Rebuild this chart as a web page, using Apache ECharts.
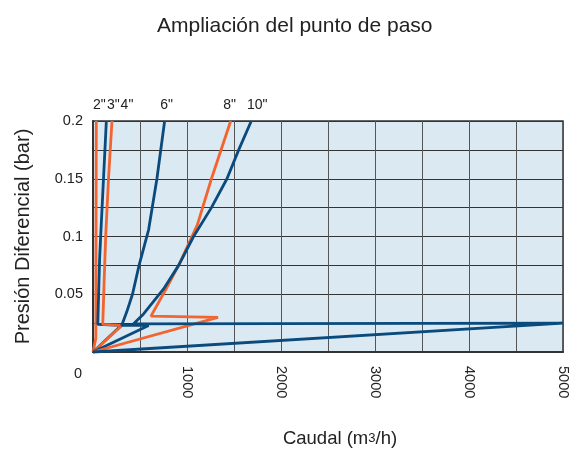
<!DOCTYPE html>
<html>
<head>
<meta charset="utf-8">
<script src="https://cdn.jsdelivr.net/npm/echarts@6/dist/echarts.min.js"></script>
<style>
  html, body { margin: 0; padding: 0; background: #fff; }
  #main { width: 571px; height: 453px; }
</style>
</head>
<body>
<div id="main"></div>
<script>
// pares [caudal m3/h, presión bar]
var sizes = ['2"', '3"', '4"', '6"', '8"', '10"'];

var curve2 = [[0, 0], [30, 0.012], [32, 0.1], [35, 0.2]];
var curve3 = [[0, 0], [300, 0.023], [51, 0.024], [70, 0.08], [85, 0.106], [142, 0.2]];
var curve4 = [[0, 0], [308, 0.023], [104, 0.024], [118, 0.06], [135, 0.1], [165, 0.15], [202, 0.2]];
var curve6 = [[0, 0], [592, 0.023], [305, 0.023], [360, 0.035], [420, 0.05], [490, 0.075], [592, 0.106], [680, 0.15], [762, 0.2]];
var curve8 = [[0, 0], [1330, 0.030], [617, 0.031], [780, 0.055], [929, 0.078], [1110, 0.11], [1260, 0.15], [1465, 0.2]];
var curve10 = [[0, 0], [5000, 0.025], [432, 0.0244], [538, 0.033], [751, 0.0546], [911, 0.075], [1070, 0.1], [1260, 0.125], [1425, 0.15], [1550, 0.175], [1684, 0.2]];

var curves = [curve2, curve3, curve4, curve6, curve8, curve10];

var orange = '#F26430';
var blue = '#0A4A7C';
var colors = [orange, blue, orange, blue, orange, blue];
var labelShift = [3, 7, 15, 2, -1, 6]; // desplazamiento horizontal de las etiquetas

var series = [];
curves.forEach(function (c, i) {
    series.push({
        name: sizes[i],
        type: 'line',
        showSymbol: false,
        symbol: 'none',
        clip: false,
        lineStyle: { color: colors[i], width: 2.8 },
        endLabel: {
            show: true,
            formatter: sizes[i],
            align: 'center',
            verticalAlign: 'bottom',
            distance: 0,
            offset: [labelShift[i], -9],
            color: '#222',
            fontSize: 14,
            fontFamily: 'Liberation Sans'
        },
        data: c,
        z: 3
    });
});

var mcharts = echarts.init(document.getElementById('main'));

var option = {
    animation: false,
    textStyle: { fontFamily: 'Liberation Sans' },
    title: {
        text: 'Ampliación del punto de paso',
        left: 152,
        top: 11,
        textStyle: { fontSize: 21, fontWeight: 'normal', color: '#222', fontFamily: 'Liberation Sans' }
    },
    grid: {
        left: 93,
        right: 8,
        top: 121,
        bottom: 99,
        show: true,
        backgroundColor: '#DAE9F2',
        borderColor: '#333',
        borderWidth: 1.5
    },
    xAxis: {
        type: 'value',
        min: 0,
        max: 5000,
        interval: 500,
        name: 'Caudal (m{s|3}/h)',
        nameLocation: 'center',
        nameGap: 77,
        nameTextStyle: {
            fontSize: 18.5,
            color: '#222',
            padding: [0, 0, 0, 24],
            rich: { s: { fontSize: 13, color: '#222', verticalAlign: 'bottom', padding: [0, 0, 3, 0] } }
        },
        axisLine: { show: true, lineStyle: { color: '#333', width: 2 } },
        axisTick: { show: false },
        splitLine: { show: true, lineStyle: { color: '#555', width: 1 } },
        axisLabel: {
            rotate: -90,
            margin: 14,
            fontSize: 14.5,
            color: '#222',
            formatter: function (v) {
                return (v > 0 && v % 1000 === 0) ? String(v) : '';
            }
        }
    },
    yAxis: {
        type: 'value',
        min: 0,
        max: 0.2,
        interval: 0.025,
        name: 'Presión Diferencial (bar)',
        nameLocation: 'center',
        nameRotate: 90,
        nameGap: 60,
        nameTextStyle: { fontSize: 20, color: '#222' },
        axisLine: { show: true, lineStyle: { color: '#333', width: 2 } },
        axisTick: { show: false },
        splitLine: { show: true, lineStyle: { color: '#333', width: 1 } },
        axisLabel: {
            margin: 10,
            fontSize: 14.5,
            color: '#222',
            formatter: function (v) {
                var k = Math.round(v / 0.025);
                if (k === 0 || k % 2 !== 0) return '';
                return String(parseFloat(v.toFixed(3)));
            }
        }
    },
    graphic: [{
        type: 'text',
        left: 74,
        top: 366,
        style: { text: '0', fontSize: 14.5, fill: '#222', fontFamily: 'Liberation Sans' }
    }],
    series: series
};

mcharts.setOption(option, true);
</script>
</body>
</html>
